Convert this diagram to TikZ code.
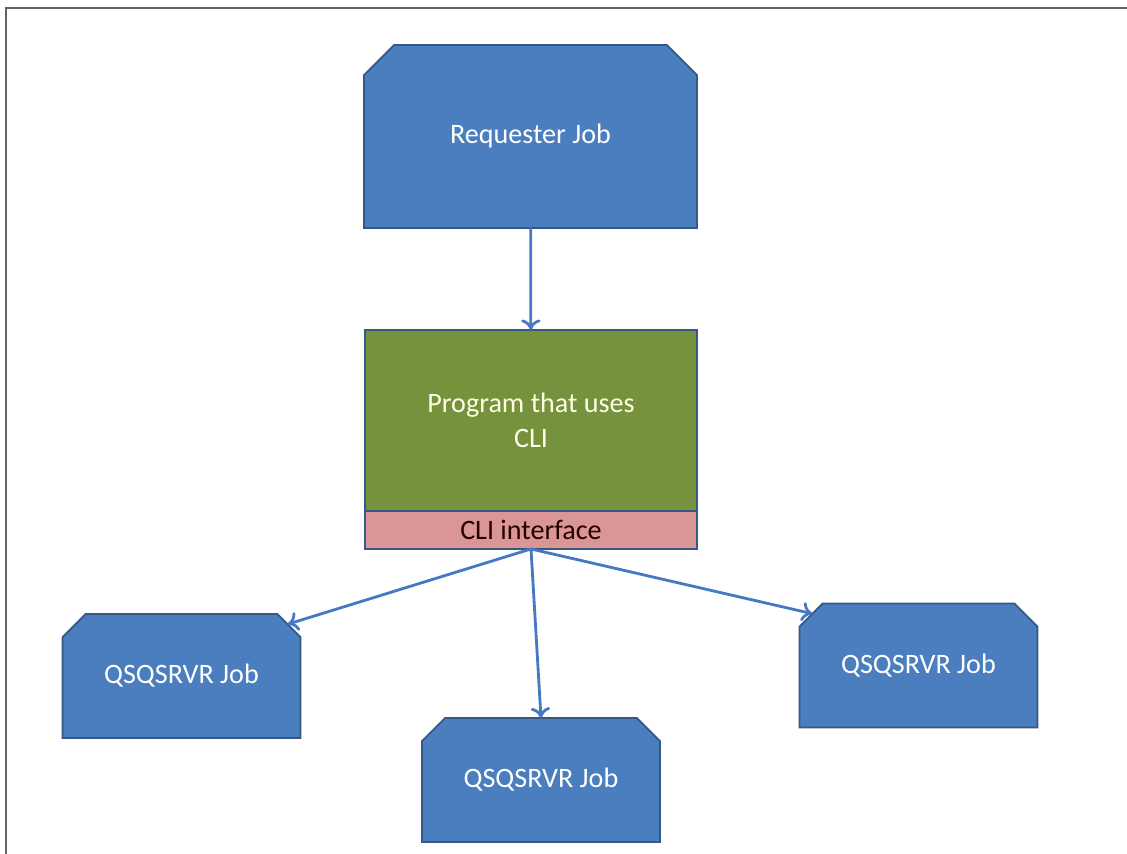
\documentclass[tikz,border=0pt]{standalone}
\usepackage{fontspec}
\setmainfont{Carlito}
\usetikzlibrary{positioning,shapes.misc,arrows.meta}

\definecolor{jobblue}{RGB}{74,126,190}
\definecolor{jobedge}{RGB}{54,88,132}
\definecolor{proggreen}{RGB}{118,146,60}
\definecolor{clipink}{RGB}{217,150,148}
\definecolor{flowblue}{RGB}{70,120,195}
\definecolor{framegray}{RGB}{100,100,100}

\tikzset{
  job/.style={chamfered rectangle, chamfered rectangle corners={north west,north east},
    draw=jobedge, fill=jobblue, line width=1pt, outer sep=0pt, text=white,
    font=\fontsize{16}{19}\selectfont},
  smalljob/.style={job, minimum width=4.76cm, minimum height=2.48cm,
    chamfered rectangle xsep=0.23cm, chamfered rectangle ysep=0.23cm},
  progbox/.style={rectangle, draw=jobedge, fill=proggreen, line width=1pt, outer sep=0pt,
    minimum width=6.64cm, text=white!90!yellow, align=center,
    font=\fontsize{16}{20}\selectfont},
  flow/.style={draw=flowblue, line width=1.6pt, -{To[length=6pt,width=11pt]}}
}

\begin{document}
\begin{tikzpicture}[x=0.02cm,y=-0.02cm]
        \useasboundingbox (0,0) rectangle (1127,854);
        % Frame
        \draw[framegray, line width=1.5pt] (1127,8) -- (6,8) -- (6,854);

        % Nodes
        \node (req) [job, minimum width=6.66cm, minimum height=3.66cm,
          chamfered rectangle xsep=0.3cm, chamfered rectangle ysep=0.3cm] at (530.5,136.5) {Requester Job};
        \node (prog) [progbox, minimum height=3.62cm] at (531,420.5) {Program that uses\\CLI};
        \node (cli) [progbox, below=0pt of prog, fill=clipink, minimum height=0.76cm, text=black!85!red,
          font=\fontsize{16}{19}\selectfont] {CLI interface};
        \node (ljob) [smalljob] at (181.5,676) {QSQSRVR Job};
        \node (mjob) [smalljob] at (541,780) {QSQSRVR Job};
        \node (rjob) [smalljob] at (918.5,665.5) {QSQSRVR Job};

        % Edges
        \draw[flow] (req) -- (prog);
        \draw[flow] (cli.south) -- (ljob.26);
        \draw[flow] (cli.south) -- (mjob.north);
        \draw[flow] (cli.south) -- (rjob.154);
    \end{tikzpicture}
\end{document}
